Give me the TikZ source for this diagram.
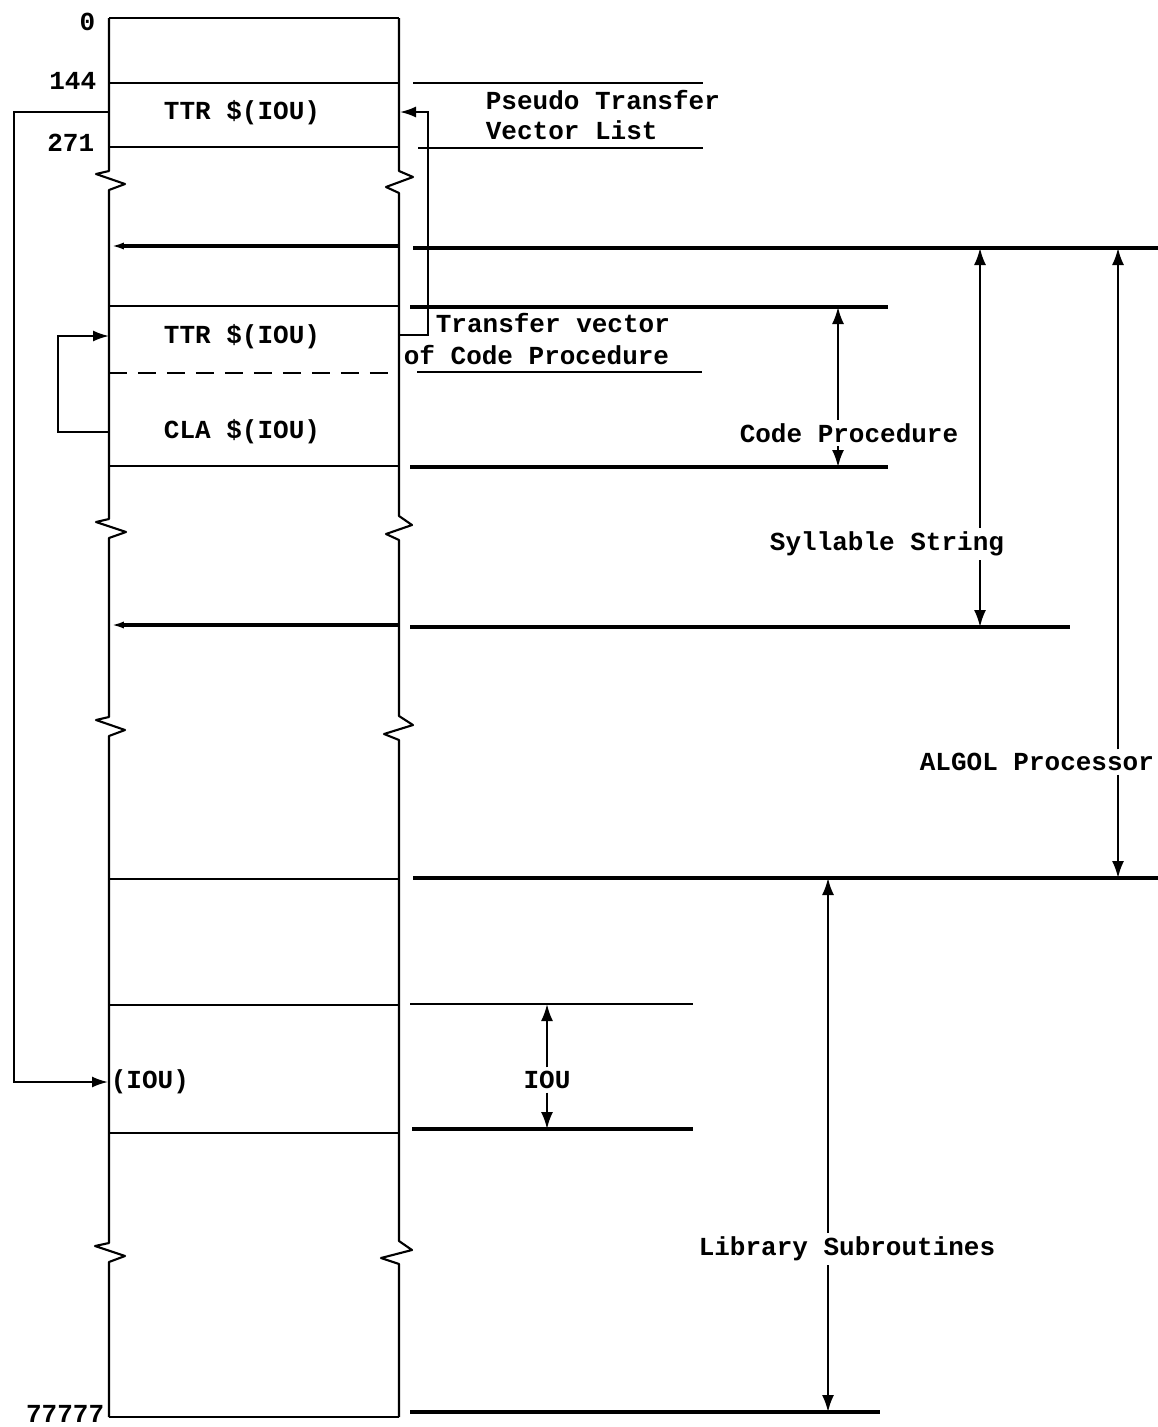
\documentclass[tikz,border=0pt]{standalone}
\usepackage{fontspec}
\setmonofont{Liberation Mono}
\usetikzlibrary{arrows.meta}
\begin{document}
\begin{tikzpicture}[x=0.02cm,y=-0.02cm,
  wall/.style={line width=1.2pt, line join=round},
  sep/.style={line width=1.1pt},
  heavy/.style={line width=1.8pt},
  ext/.style={line width=1.1pt},
  dashsep/.style={line width=1.2pt, dash pattern=on 0.36cm off 0.22cm},
  dim/.style={line width=1.2pt,-{Latex[length=0.34cm,width=0.24cm]}},
  loopar/.style={line width=1.1pt,-{Latex[length=0.32cm,width=0.22cm]}},
  lefttip/.style={heavy,-{Latex[length=0.28cm,width=0.14cm]}},
  txt/.style={font=\fontsize{14.8}{17}\selectfont\ttfamily\bfseries, inner sep=2pt}]

\useasboundingbox (0,0) rectangle (1158,1427);

% walls with break marks
\draw[wall] (109,18) -- (109,171) -- (96,174) -- (125,184) -- (109,190) -- (109,519)
  -- (96,522) -- (126,532) -- (109,538) -- (109,717) -- (96,720) -- (125,730) -- (109,736)
  -- (109,1243) -- (95,1246) -- (125,1256) -- (109,1262) -- (109,1417);
\draw[wall] (399,18) -- (399,171) -- (413,177) -- (386,187) -- (399,193) -- (399,516)
  -- (412,525) -- (386,534) -- (399,540) -- (399,716) -- (413,725) -- (384,734) -- (399,740)
  -- (399,1241) -- (412,1250) -- (381,1258) -- (399,1264) -- (399,1417);
\draw[wall] (109,18) -- (399,18);
\draw[wall] (109,1417) -- (399,1417);

% separators inside the column
\draw[sep] (109,83) -- (399,83);
\draw[sep] (109,147) -- (399,147);
\draw[lefttip] (399,246) -- (110,246);
\draw[sep] (109,306) -- (399,306);
\draw[dashsep] (109,373) -- (399,373);
\draw[sep] (109,466) -- (399,466);
\draw[lefttip] (399,625) -- (110,625);
\draw[sep] (109,879) -- (399,879);
\draw[sep] (109,1005) -- (399,1005);
\draw[sep] (109,1133) -- (399,1133);

% extension lines
\draw[ext] (413,83) -- (703,83);
\draw[ext] (418,148) -- (703,148);
\draw[heavy] (413,248) -- (1158,248);
\draw[heavy] (410,307) -- (888,307);
\draw[ext] (417,372) -- (702,372);
\draw[heavy] (410,467) -- (888,467);
\draw[heavy] (410,627) -- (1070,627);
\draw[heavy] (413,878) -- (1158,878);
\draw[ext] (410,1004) -- (693,1004);
\draw[heavy] (412,1129) -- (693,1129);
\draw[heavy] (410,1412) -- (880,1412);

% texts
\node[txt, anchor=east] (n0) at (99,22) {0};
\node[txt, anchor=east] (n144) at (100,81) {144};
\node[txt, anchor=east] (n271) at (98,143) {271};
\node[txt, anchor=east] (n77777) at (108,1414) {77777};
\node[txt] (ttr1) at (242,113) {TTR \$(IOU)};
\node[txt, anchor=west, align=left] (pseudo) at (482,115) {Pseudo Transfer\\Vector List};
\node[txt, anchor=west] (tv1) at (432,323) {Transfer vector};
\node[txt, anchor=west] (tv2) at (400,355) {of Code Procedure};
\node[txt] (ttr2) at (242,337) {TTR \$(IOU)};
\node[txt] (cla) at (242,432) {CLA \$(IOU)};
\node[txt] (cp) at (849,433) {Code Procedure};
\node[txt] (ss) at (887,544) {Syllable String};
\node[txt, anchor=west] (algol) at (916,762) {ALGOL Processor};
\node[txt, anchor=west] (iouL) at (107,1082) {(IOU)};
\node[txt] (iou) at (547,1080) {IOU};
\node[txt] (lib) at (847,1249) {Library Subroutines};

% dimension arrows
\coordinate (cpT) at (838,307);  \coordinate (cpB) at (838,467);
\coordinate (ssT) at (980,248);  \coordinate (ssB) at (980,627);
\coordinate (alT) at (1118,248); \coordinate (alB) at (1118,878);
\coordinate (libT) at (828,878); \coordinate (libB) at (828,1412);
\coordinate (iouT) at (547,1004); \coordinate (iouB) at (547,1129);
\draw[dim] (cp.north -| cpT) -- (cpT);
\draw[dim] (cp.south -| cpB) -- (cpB);
\draw[dim] (ss.north -| ssT) -- (ssT);
\draw[dim] (ss.south -| ssB) -- (ssB);
\draw[dim] (algol.north -| alT) -- (alT);
\draw[dim] (algol.south -| alB) -- (alB);
\draw[dim] (lib.north -| libT) -- (libT);
\draw[dim] (lib.south -| libB) -- (libB);
\draw[dim] (iou.north -| iouT) -- (iouT);
\draw[dim] (iou.south -| iouB) -- (iouB);

% transfer loops
\coordinate (pA) at (399,335); \coordinate (pK) at (428,112); \coordinate (pE) at (400,112);
\draw[loopar] (pA) -| (pK) -- (pE);
\coordinate (bA) at (109,112); \coordinate (bK) at (14,1082); \coordinate (bE) at (108,1082);
\draw[loopar] (bA) -| (bK) -- (bE);
\coordinate (sA) at (109,432); \coordinate (sK) at (58,336); \coordinate (sE) at (109,336);
\draw[loopar] (sA) -| (sK) -- (sE);
\end{tikzpicture}
\end{document}
